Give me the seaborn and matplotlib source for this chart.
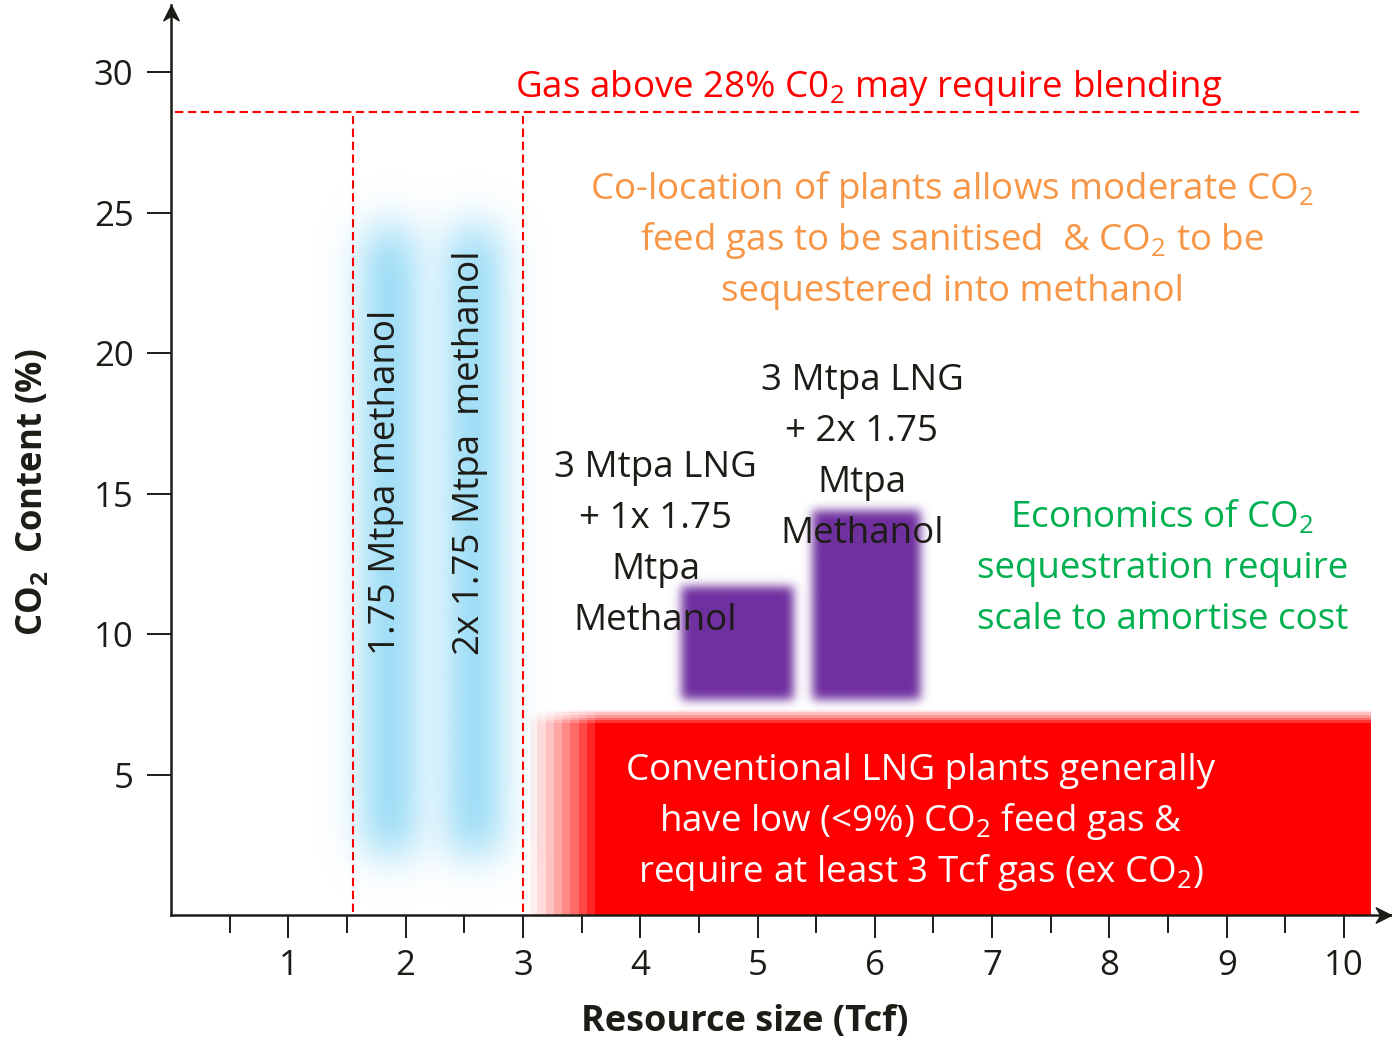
import math
import numpy as np
import pandas as pd
import matplotlib
matplotlib.use("Agg")
import matplotlib.pyplot as plt
from matplotlib.path import Path
import seaborn as sns

# ---- axis ranges and ticks ----
x_max, y_max = 10.4, 32.4
x_major = [1, 2, 3, 4, 5, 6, 7, 8, 9, 10]
x_minor = [0.5, 1.5, 2.5, 3.5, 4.5, 5.5, 6.5, 7.5, 8.5, 9.5]
y_major = [5, 10, 15, 20, 25, 30]

# ---- thresholds ----
co2_limit = 28.6          # blending threshold line (% CO2)
size_bounds = [1.55, 3.0]  # resource size bounds (Tcf)

# ---- methanol-only bands ----
band_x = [1.86, 2.58]
band_half_width = 0.2
band_y = [2.2, 24.4]
band_labels = ["1.75 Mtpa methanol", "2x 1.75 Mtpa  methanol"]

# ---- LNG + methanol boxes ----
combo_x0 = [4.35, 5.47]
combo_x1 = [5.31, 6.39]
combo_y0 = [7.65, 7.65]
combo_y1 = [11.67, 14.4]

# ---- conventional LNG zone ----
lng_x = [3.05, 10.22]
lng_y = [0.0, 7.3]
lng_fade = [0.63, 0.6]    # fade width on the left edge (Tcf) and top edge (%)

ink = "#1e1c16"
red = "#ff0000"
orange = "#f79646"
green = "#00b050"
purple = (0x70 / 255, 0x30 / 255, 0xa0 / 255)
sky = (143 / 255, 216 / 255, 245 / 255)

sns.set_theme(style="ticks")
plt.rcParams["font.family"] = ["Open Sans", "DejaVu Sans"]
plt.rcParams["mathtext.fontset"] = "custom"
plt.rcParams["mathtext.rm"] = "Open Sans"
plt.rcParams["mathtext.it"] = "Open Sans:italic"
plt.rcParams["mathtext.bf"] = "Open Sans:bold"

fig = plt.figure(figsize=(13.92, 10.41), dpi=100)
ax = fig.add_axes([171 / 1392, 126 / 1041, 1220 / 1392, 910 / 1041])

# pixel sizes of one data unit
px_x = 1220 / x_max
px_y = 910 / y_max

_erf = np.vectorize(math.erf)


def soft_box(g, lo, hi, sigma):
    r = sigma * math.sqrt(2)
    return 0.5 * (_erf((g - lo) / r) - _erf((g - hi) / r))


def rgba_layer(color, alpha):
    img = np.zeros(alpha.shape + (4,))
    img[..., 0], img[..., 1], img[..., 2] = color
    img[..., 3] = np.clip(alpha, 0, 1)
    return img


# methanol-only bands: heavily blurred vertical strips
ex = (0.8, 3.6, -0.5, 28.0)
gx = np.linspace(ex[0], ex[1], 320)
gy = np.linspace(ex[2], ex[3], 500)
a = np.zeros((gy.size, gx.size))
for xc in band_x:
    ax_prof = soft_box(gx, xc - band_half_width, xc + band_half_width, 20 / px_x)
    ay_prof = soft_box(gy, band_y[0], band_y[1], 22 / px_y)
    a = 1 - (1 - a) * (1 - np.outer(ay_prof, ax_prof))
ax.imshow(rgba_layer(sky, a * 1.1), extent=ex, origin="lower", aspect="auto",
          interpolation="bilinear", zorder=1)

# LNG + methanol boxes: soft-edged purple blocks
for x0, x1, y0, y1 in zip(combo_x0, combo_x1, combo_y0, combo_y1):
    ex = (x0 - 0.3, x1 + 0.3, y0 - 1.0, y1 + 1.0)
    gx = np.linspace(ex[0], ex[1], 200)
    gy = np.linspace(ex[2], ex[3], 300)
    a = np.outer(soft_box(gy, y0, y1, 5 / px_y), soft_box(gx, x0, x1, 5 / px_x))
    ax.imshow(rgba_layer(purple, a * 1.02), extent=ex, origin="lower", aspect="auto",
              interpolation="bilinear", zorder=2)

# conventional LNG zone: solid red with stepped fade on left and top edges
ex = (lng_x[0], lng_x[1], lng_y[0], lng_y[1])
gx = np.linspace(ex[0], ex[1], 1200)
gy = np.linspace(ex[2], ex[3], 400)
fx = np.clip((gx - lng_x[0]) / lng_fade[0], 0, 1)
fy = np.clip((lng_y[1] - gy) / lng_fade[1], 0, 1)
fx = np.ceil(fx * 9) / 9
fy = np.ceil(fy * 6) / 6
a = np.outer(fy, fx) ** 1.3
ax.imshow(rgba_layer((1, 0, 0), a), extent=ex, origin="lower", aspect="auto",
          interpolation="nearest", zorder=2)

# dashed threshold lines
dash = dict(color=red, linewidth=1.5, linestyle=(0, (4, 2.2)), zorder=3,
            estimator=None, sort=False, legend=False)
h_line = pd.DataFrame({"x": [0.03, 10.15], "y": [co2_limit, co2_limit]})
sns.lineplot(data=h_line, x="x", y="y", ax=ax, **dash)
for xb in size_bounds:
    v_line = pd.DataFrame({"x": [xb, xb], "y": [0.1, co2_limit - 0.15]})
    sns.lineplot(data=v_line, x="x", y="y", ax=ax, **dash)

ax.set_xlim(0, x_max)
ax.set_ylim(0, y_max)

# axes styling
for side in ("top", "right"):
    ax.spines[side].set_visible(False)
for side in ("left", "bottom"):
    ax.spines[side].set_linewidth(1.8)
    ax.spines[side].set_color(ink)
    ax.spines[side].set_zorder(6)

ax.set_xticks(x_major)
ax.set_xticks(x_minor, minor=True)
ax.set_yticks(y_major)
ax.tick_params(axis="x", which="major", direction="out", length=16.5, width=1.4,
               color=ink, labelsize=25, labelcolor=ink, pad=8)
ax.tick_params(axis="x", which="minor", direction="out", length=13, width=1.4, color=ink)
ax.tick_params(axis="y", which="major", direction="out", length=17, width=1.4,
               color=ink, labelsize=25, labelcolor=ink, pad=10)
ax.set_xlabel("Resource size (Tcf)", fontsize=26, fontweight="bold", color=ink)
ax.xaxis.set_label_coords((745 - 171) / 1220, -107 / 910)
ax.xaxis.label.set_va("center")
ax.set_ylabel(r"$\mathbf{CO_2}$  Content (%)", fontsize=25, fontweight="bold", color=ink)
ax.yaxis.set_label_coords((33 - 171) / 1220, (915 - 492) / 910)
ax.yaxis.label.set_va("center")

# axis arrowheads
arrow_right = Path([(0, 0), (-1, 0.5), (-0.7, 0), (-1, -0.5), (0, 0)],
                   [Path.MOVETO, Path.LINETO, Path.LINETO, Path.LINETO, Path.CLOSEPOLY])
arrow_up = Path([(0, 0), (0.5, -1), (0, -0.7), (-0.5, -1), (0, 0)],
                [Path.MOVETO, Path.LINETO, Path.LINETO, Path.LINETO, Path.CLOSEPOLY])
ax.plot([1], [0], marker=arrow_right, ms=22, color=ink, transform=ax.transAxes,
        clip_on=False, zorder=7, linestyle="none")
ax.plot([0], [1], marker=arrow_up, ms=22, color=ink, transform=ax.transAxes,
        clip_on=False, zorder=7, linestyle="none")

# annotations
step = 51 / px_y
body = 26.5


def stacked(lines, xc, y_first, color, size=body):
    for i, line in enumerate(lines):
        ax.text(xc, y_first - i * step, line, ha="center", va="baseline",
                color=color, fontsize=size, zorder=8)


stacked([r"Gas above 28% C0$_2$ may require blending"], 5.95, (915 - 97) / px_y, red)
stacked([r"Co-location of plants allows moderate CO$_2$",
         r"feed gas to be sanitised  & CO$_2$ to be",
         "sequestered into methanol"], 6.66, (915 - 199) / px_y, orange)
stacked(["3 Mtpa LNG", "+ 2x 1.75", "Mtpa", "Methanol"], 5.89, (915 - 390) / px_y, ink)
stacked(["3 Mtpa LNG", "+ 1x 1.75", "Mtpa", "Methanol"], 4.13, (915 - 477) / px_y, ink)
stacked([r"Economics of CO$_2$", "sequestration require", "scale to amortise cost"],
        8.45, (915 - 527) / px_y, green)
stacked(["Conventional LNG plants generally",
         r"have low (<9%) CO$_2$ feed gas &",
         r"require at least 3 Tcf gas (ex CO$_2$)"], 6.39, (915 - 780) / px_y, "white")

for xc, label in zip(band_x, band_labels):
    ax.text(xc - 0.03, (915 - 655) / px_y, label, rotation=90, ha="center", va="bottom",
            color=ink, fontsize=body, zorder=8)

fig.savefig("out.png", dpi=100)
